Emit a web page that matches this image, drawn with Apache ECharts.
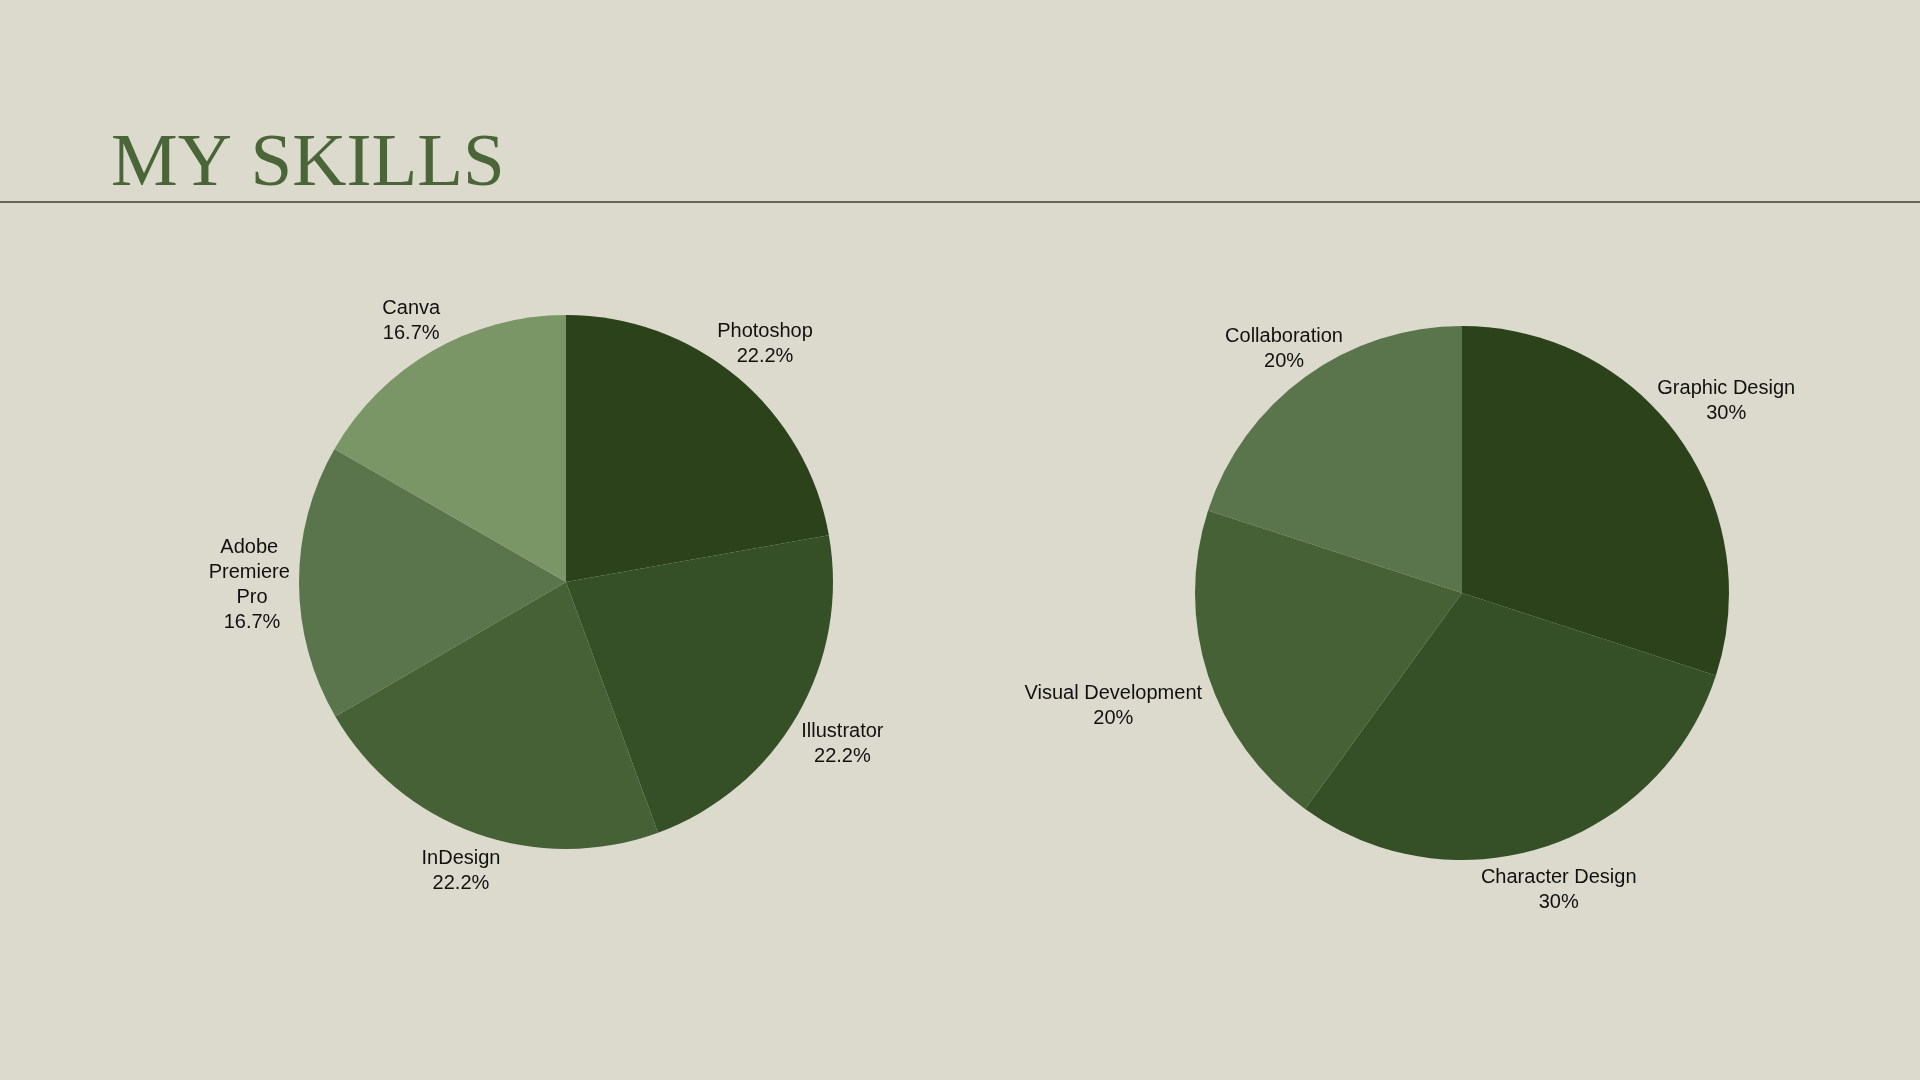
<!DOCTYPE html>
<html>
<head>
<meta charset="utf-8">
<script src="https://cdn.jsdelivr.net/npm/echarts@6/dist/echarts.min.js"></script>
<style>
html,body{margin:0;padding:0;background:#dcdacd;}
#c{width:1920px;height:1080px;}
</style>
</head>
<body>
<div id="c"></div>
<script>
// Data
var softwareNames = ['Photoshop', 'Illustrator', 'InDesign', 'Adobe Premiere Pro', 'Canva'];
var softwareValues = [22.2, 22.2, 22.2, 16.7, 16.7];
var skillNames = ['Graphic Design', 'Character Design', 'Visual Development', 'Collaboration'];
var skillValues = [30, 30, 20, 20];

// Styles
var leftColors = ['#2c421b', '#354f27', '#466136', '#5a744b', '#7a9566'];
var rightColors = ['#2c421b', '#354f27', '#466136', '#5a744b'];
var labelTweaks = {
  'Photoshop': {offset: [-2, 2]},
  'Adobe Premiere Pro': {width: 90, overflow: 'break', offset: [-1, 2]},
  'Canva': {offset: [2, 10]},
  'InDesign': {offset: [1, -6]},
  'Illustrator': {offset: [5, 6]},
  'Graphic Design': {offset: [11, -8]},
  'Visual Development': {offset: [-51, 16]},
  'Collaboration': {offset: [6, 9]},
  'Character Design': {offset: [0, -1]}
};

function pct(v, total) {
  var p = v / total * 100;
  var r = Math.round(p * 10) / 10;
  return (r % 1 === 0 ? r.toFixed(0) : r.toFixed(1)) + '%';
}

function makeSeries(names, values, colors, center) {
  var total = values.reduce(function (a, b) { return a + b; }, 0);
  var pieData = names.map(function (n, i) {
    return {name: n, value: values[i], itemStyle: {color: colors[i]}};
  });
  var labelData = names.map(function (n, i) {
    var lab = Object.assign({}, labelTweaks[n] || {});
    return {name: n, value: values[i], label: lab};
  });
  return [
    {
      type: 'pie',
      center: center,
      radius: [0, 267],
      startAngle: 90,
      clockwise: true,
      silent: true,
      label: {show: false},
      labelLine: {show: false},
      itemStyle: {borderWidth: 0},
      data: pieData
    },
    {
      type: 'pie',
      center: center,
      radius: [267, 353],
      startAngle: 90,
      clockwise: true,
      silent: true,
      itemStyle: {color: 'rgba(0,0,0,0)', borderWidth: 0},
      labelLine: {show: false},
      label: {
        show: true,
        position: 'inside',
        color: '#111111',
        fontFamily: 'Liberation Sans, Arial, sans-serif',
        fontSize: 20,
        lineHeight: 25,
        align: 'center',
        formatter: function (p) { return p.name + '\n' + pct(p.value, total); }
      },
      data: labelData
    }
  ];
}

var chart = echarts.init(document.getElementById('c'), null, {renderer: 'canvas'});
chart.setOption({
  backgroundColor: '#dcdacd',
  animation: false,
  title: {
    text: 'MY SKILLS',
    left: 106,
    top: 123,
    textStyle: {
      fontFamily: 'Liberation Serif, Times New Roman, serif',
      fontWeight: 'normal',
      fontSize: 75,
      color: '#4a6638'
    }
  },
  graphic: [
    {
      type: 'line',
      shape: {x1: 0, y1: 202, x2: 1920, y2: 202},
      style: {stroke: '#3d3d33', lineWidth: 1.5}
    }
  ],
  series: [].concat(
    makeSeries(softwareNames, softwareValues, leftColors, [566, 582]),
    makeSeries(skillNames, skillValues, rightColors, [1462, 593])
  )
});
</script>
</body>
</html>
